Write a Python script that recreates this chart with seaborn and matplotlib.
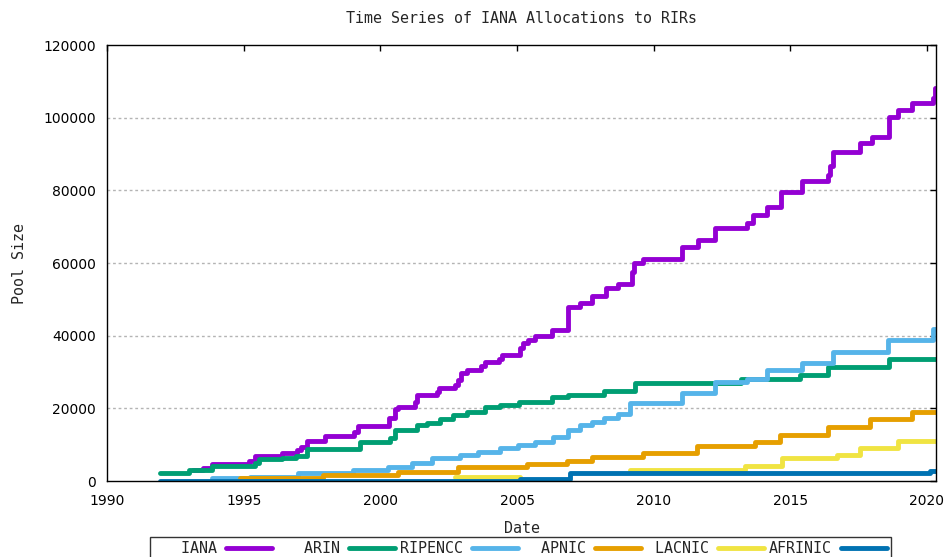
import pandas as pd
import matplotlib
matplotlib.use('Agg')
import matplotlib.pyplot as plt
from matplotlib.lines import Line2D
import seaborn as sns

# Datos (años decimales, tamaño acumulado del pool)
iana_year = [1993.15, 1993.5, 1993.85, 1995.2, 1995.4, 1996.4, 1996.95, 1997.1, 1997.3, 1997.97,
             1999.04, 1999.2, 2000.3, 2000.54, 2000.66, 2001.27, 2001.33, 2002.07, 2002.15, 2002.73,
             2002.84, 2002.95, 2003.17, 2003.7, 2003.83, 2004.34, 2004.45, 2005.1, 2005.22, 2005.4,
             2005.66, 2006.28, 2006.87, 2007.3, 2007.75, 2008.26, 2008.7, 2009.2, 2009.28, 2009.6,
             2011.04, 2011.62, 2012.25, 2013.4, 2013.64, 2014.15, 2014.66, 2015.43, 2016.38, 2016.45,
             2016.56, 2017.55, 2018.0, 2018.6, 2018.94, 2019.45, 2020.23, 2020.3, 2020.35]
iana_size = [3000, 3600, 4700, 5500, 6900, 7700, 8500, 9400, 11000, 12400,
             13500, 15200, 17300, 19800, 20400, 21700, 23700, 24500, 25600, 26400,
             27800, 29700, 30500, 31600, 32700, 33600, 34700, 36600, 38000, 38800,
             39900, 41600, 47900, 49000, 50900, 53100, 54200, 57500, 60000, 61100,
             64400, 66300, 69600, 71000, 73200, 75400, 79500, 82600, 84200, 86700,
             90500, 93000, 94700, 100200, 102100, 104000, 105400, 108100, 108100]

arin_year = [1991.94, 1993.0, 1993.85, 1995.4, 1995.55, 1996.4, 1996.9, 1997.3, 1999.26, 2000.35,
             2000.54, 2001.34, 2001.7, 2002.18, 2002.66, 2003.17, 2003.83, 2004.38, 2005.07, 2006.28,
             2006.87, 2008.2, 2009.3, 2013.2, 2015.36, 2016.38, 2018.62, 2020.35]
arin_size = [2200, 3000, 4100, 4900, 6000, 6300, 6800, 8800, 10800, 11900,
             14000, 15400, 16000, 17000, 18200, 19000, 20400, 20900, 21700, 23000,
             23800, 24900, 27000, 28000, 29200, 31400, 33600, 33600]

ripe_year = [1993.85, 1995.23, 1997.0, 1999.0, 2000.28, 2001.16, 2001.9, 2002.9, 2003.57, 2004.38,
             2005.04, 2005.66, 2006.3, 2006.87, 2007.3, 2007.75, 2008.2, 2008.7, 2009.14, 2011.04,
             2012.25, 2013.42, 2014.15, 2015.43, 2016.56, 2018.58, 2020.23, 2020.35]
ripe_size = [800, 1100, 2200, 3000, 3900, 4900, 6300, 7100, 8000, 9100,
             9900, 10700, 12100, 14000, 15400, 16200, 17300, 18400, 21500, 24200,
             27200, 28000, 30500, 32500, 35500, 38800, 41800, 41800]

apnic_year = [1994.87, 1997.9, 2000.65, 2002.84, 2005.37, 2006.83, 2007.75, 2009.6, 2011.6, 2013.7,
              2014.63, 2016.38, 2017.92, 2019.45, 2020.35]
apnic_size = [800, 1700, 2500, 3900, 4600, 5500, 6600, 7700, 9600, 10700,
              12700, 14900, 17100, 19000, 19000]

# LACNIC aparece en dos tramos visibles
lacnic_year = [2002.73, 2005.1, 2009.14, 2013.34, 2014.7, 2016.7, 2017.55, 2018.94, 2020.35]
lacnic_size = [1100, 1100, 3000, 4100, 6300, 7100, 9000, 11000, 11000]
lacnic_seg = [0, 0, 1, 1, 1, 1, 1, 1, 1]

afrinic_year = [1991.94, 2005.1, 2006.94, 2020.1, 2020.35]
afrinic_size = [100, 500, 2200, 2800, 2800]

rirs = ['IANA', 'ARIN', 'RIPENCC', 'APNIC', 'LACNIC', 'AFRINIC']
colores = ['#9400d3', '#009e73', '#56b4e9', '#e69f00', '#f0e442', '#0072b2']

# Tabla larga para seaborn
frames = []
for nombre, yrs, vals, seg in [
    ('IANA', iana_year, iana_size, None),
    ('ARIN', arin_year, arin_size, None),
    ('RIPENCC', ripe_year, ripe_size, None),
    ('APNIC', apnic_year, apnic_size, None),
    ('LACNIC', lacnic_year, lacnic_size, lacnic_seg),
    ('AFRINIC', afrinic_year, afrinic_size, None),
]:
    d = pd.DataFrame({'Date': yrs, 'Pool Size': vals})
    d['rir'] = nombre
    d['seg'] = seg if seg is not None else 0
    frames.append(d)
df = pd.concat(frames, ignore_index=True)

# Estilo
sns.set_style('white')
plt.rcParams['font.family'] = ['DejaVu Sans']
mono = 'DejaVu Sans Mono'

fig, ax = plt.subplots(figsize=(9.47, 5.57), dpi=100)
fig.subplots_adjust(left=0.113, right=0.9884, top=0.919, bottom=0.1364)

sns.lineplot(data=df, x='Date', y='Pool Size', hue='rir', hue_order=rirs,
             palette=dict(zip(rirs, colores)), units='seg', estimator=None,
             sort=False, drawstyle='steps-post', linewidth=3.5, legend=False, ax=ax)

ax.set_xlim(1990, 2020.33)
ax.set_ylim(0, 120000)
ax.set_xticks(range(1990, 2021, 5))
ax.set_yticks(range(0, 120001, 20000))

for y in range(20000, 120000, 20000):
    ax.axhline(y, color='#b4b4b4', linestyle=(0, (2, 2)), linewidth=1, zorder=0)

for s in ax.spines.values():
    s.set_color('black')
    s.set_linewidth(1.0)
    s.set_visible(True)

ax.tick_params(axis='both', direction='in', length=4.5, width=1, color='black',
               top=True, right=True, labelsize=10, labelcolor='black')
ax.tick_params(axis='x', pad=9)
ax.tick_params(axis='y', pad=8)

ax.set_title('Time Series of IANA Allocations to RIRs', fontsize=10.8, family=mono, pad=16)
ax.set_xlabel('Date', fontsize=10.8, family=mono, labelpad=10)
ax.set_ylabel('Pool Size', fontsize=10.8, family=mono, labelpad=12)

# Leyenda abajo, estilo gnuplot (texto y luego la muestra)
handles = [Line2D([0], [0], color=c, lw=3.5) for c in colores]
etiquetas = [r.rjust(7) for r in rirs]
leg = fig.legend(handles, etiquetas, loc='upper center', bbox_to_anchor=(0.5496, 0.0359),
                 ncol=6, markerfirst=False, frameon=True, fancybox=False,
                 handlelength=3.07, handletextpad=0.6, columnspacing=0.33,
                 borderpad=0.25, borderaxespad=0, prop={'family': mono, 'size': 10.8})
leg.get_frame().set_edgecolor('black')
leg.get_frame().set_linewidth(1.0)

fig.savefig('out.png', dpi=100)
